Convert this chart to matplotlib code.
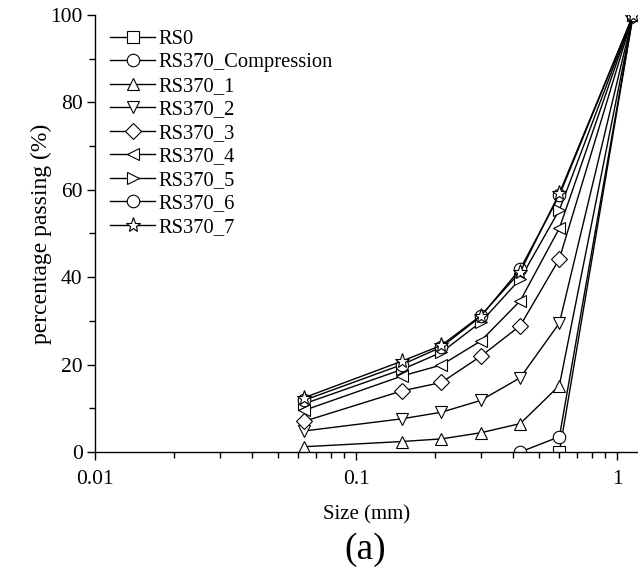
import matplotlib
matplotlib.use("Agg")
import matplotlib.pyplot as plt
from matplotlib.ticker import FixedLocator, NullFormatter, LogLocator

plt.rcParams['font.family'] = ['Liberation Serif', 'DejaVu Serif']

# sieve sizes (mm)
sizes = [0.063, 0.15, 0.212, 0.3, 0.425, 0.6, 1.15]

labels = ['RS0', 'RS370_Compression', 'RS370_1', 'RS370_2', 'RS370_3',
          'RS370_4', 'RS370_5', 'RS370_6', 'RS370_7']
markers = ['s', 'o', '^', 'v', 'D', '<', '>', 'o', '*']

# percentage passing (None = no point)
rs0 = [None, None, None, None, None, 0.0, 100]
rs370_comp = [None, None, None, None, 0.0, 3.5, 100]
rs370_1 = [1.2, 2.4, 3.0, 4.4, 6.5, 15.2, 100]
rs370_2 = [4.8, 7.6, 9.1, 11.8, 17.0, 29.5, 100]
rs370_3 = [7.0, 14.0, 15.9, 21.9, 28.9, 44.2, 100]
rs370_4 = [9.5, 17.4, 19.9, 25.4, 34.6, 51.2, 100]
rs370_5 = [11.0, 18.9, 22.8, 29.7, 39.6, 55.4, 100]
rs370_6 = [11.8, 20.0, 24.0, 31.0, 41.9, 58.7, 100]
rs370_7 = [12.4, 20.8, 24.4, 31.2, 41.2, 59.2, 100]

series = [rs0, rs370_comp, rs370_1, rs370_2, rs370_3,
          rs370_4, rs370_5, rs370_6, rs370_7]

fig = plt.figure(figsize=(6.38, 5.71), dpi=100)
ax = fig.add_axes([0.149, 0.2084, 0.851, 0.7656])

for lab, mk, vals in zip(labels, markers, series):
    xs = [s for s, v in zip(sizes, vals) if v is not None]
    ys = [v for v in vals if v is not None]
    ms = 11 if mk == '*' else (8 if mk == 'D' else 9)
    ax.plot(xs, ys, color='black', lw=1.0, marker=mk, ms=ms,
            mfc='white', mec='black', mew=0.8, label=lab)

ax.set_xscale('log')
ax.set_xlim(0.01, 1.2)
ax.set_ylim(0, 100)
ax.set_xticks([0.01, 0.1, 1])
ax.set_xticklabels(['0.01', '0.1', '1'])
ax.xaxis.set_minor_locator(LogLocator(base=10, subs=range(2, 10)))
ax.xaxis.set_minor_formatter(NullFormatter())
ax.set_yticks([0, 20, 40, 60, 80, 100])
ax.yaxis.set_minor_locator(FixedLocator([10, 30, 50, 70, 90]))

for side in ['top', 'right']:
    ax.spines[side].set_visible(False)
ax.spines['left'].set_linewidth(1.0)
ax.spines['bottom'].set_linewidth(1.0)
ax.spines['bottom'].set_clip_on(False)

ax.tick_params(which='major', direction='out', length=6, width=1.0, labelsize=15.5)
ax.tick_params(which='minor', direction='out', length=4, width=1.0)
ax.tick_params(axis='x', which='major', pad=7)
ax.tick_params(axis='y', which='major', pad=3)

ax.set_xlabel('Size (mm)', fontsize=15, labelpad=12)
ax.set_ylabel('percentage passing (%)', fontsize=17)
ax.yaxis.set_label_coords(-0.08, 0.5)

leg = ax.legend(loc='upper left', bbox_to_anchor=(0.005, 0.995), frameon=False,
                fontsize=14.8, handlelength=2.2, handletextpad=0.15,
                labelspacing=0.2, borderaxespad=0.2)

fig.text(0.572, 0.037, '(a)', ha='center', va='center', fontsize=27)

fig.savefig('out.png', dpi=100)
